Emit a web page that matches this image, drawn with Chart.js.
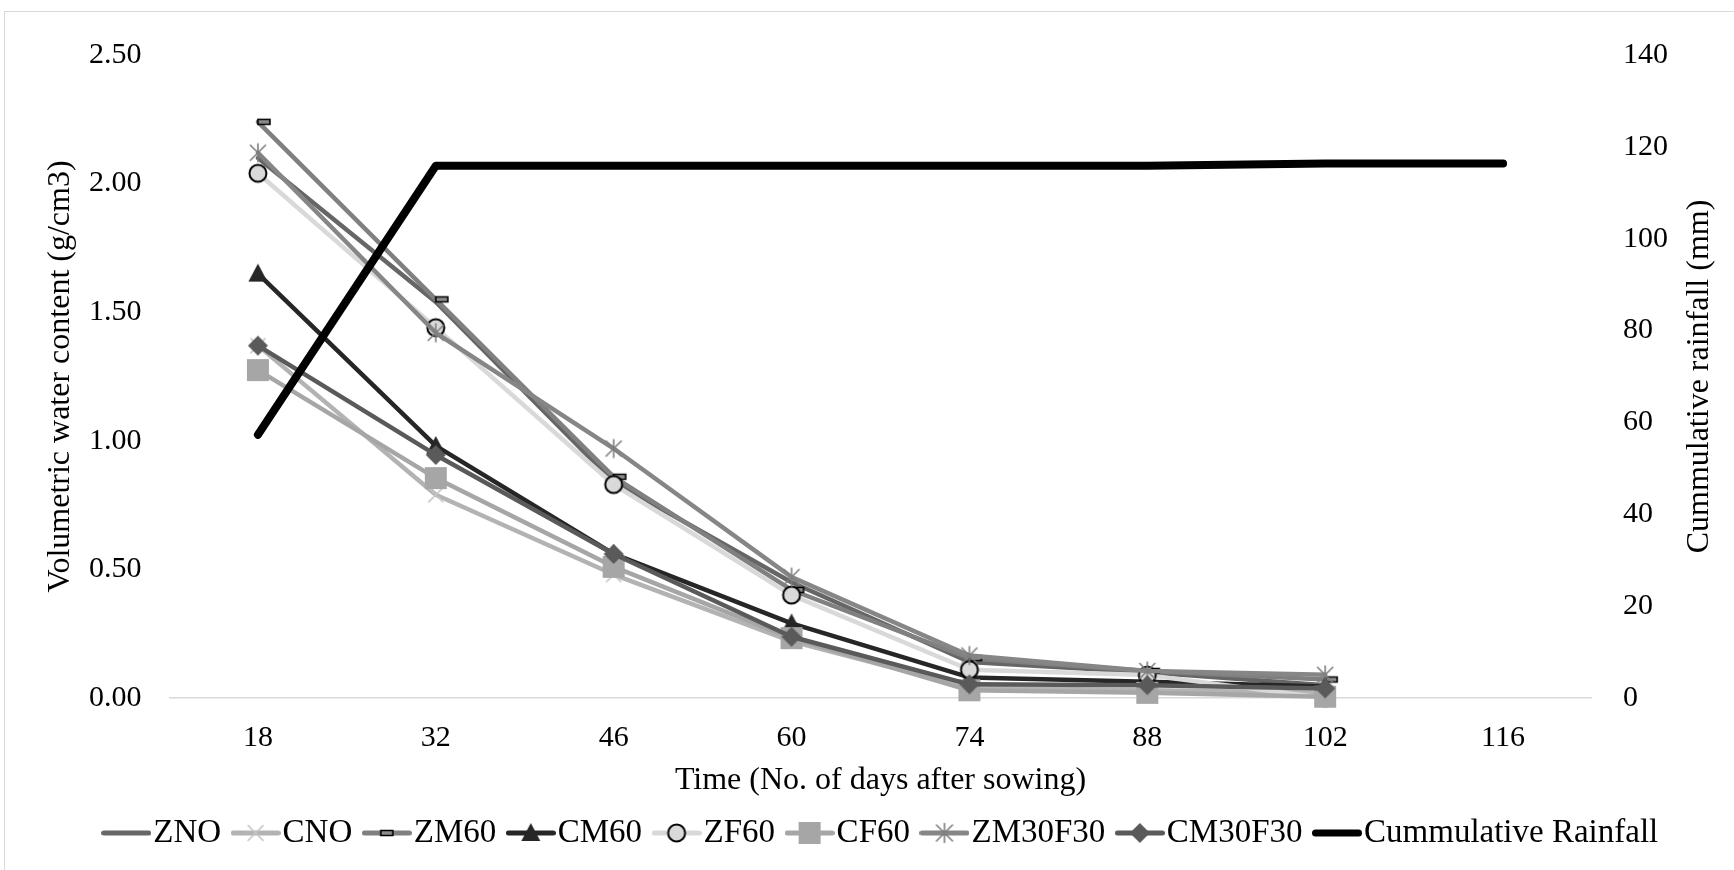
<!DOCTYPE html>
<html>
<head>
<meta charset="utf-8">
<title>Volumetric water content and cumulative rainfall</title>
<script src="https://cdn.jsdelivr.net/npm/chart.js@4.4.0/dist/chart.umd.min.js"></script>
<style>
  html, body { margin: 0; padding: 0; background: #fff; }
  #wrap { width: 1734px; height: 870px; position: relative; }
</style>
</head>
<body>
<div id="wrap"><canvas id="chart" width="1734" height="870"></canvas></div>
<script>
// Days after sowing (x categories)
const days = ['18', '32', '46', '60', '74', '88', '102', '116'];

// Volumetric water content per treatment (g/cm3)
const zno     = [2.10, 1.54, 0.84, 0.45, 0.14, 0.10, 0.05];
const cno     = [1.37, 0.79, 0.48, 0.22, 0.04, 0.03, 0.02];
const zm60    = [2.24, 1.55, 0.86, 0.42, 0.155, 0.105, 0.072];
const cm60    = [1.65, 0.98, 0.56, 0.29, 0.08, 0.063, 0.045];
const zf60    = [2.04, 1.44, 0.83, 0.40, 0.11, 0.089, 0.00];
const cf60    = [1.275, 0.855, 0.51, 0.233, 0.03, 0.02, 0.005];
const zm30f30 = [2.12, 1.42, 0.97, 0.47, 0.165, 0.105, 0.09];
const cm30f30 = [1.37, 0.945, 0.56, 0.238, 0.053, 0.05, 0.037];

// Cumulative rainfall (mm), right axis
const rainfall = [57.3, 115.9, 115.9, 115.9, 115.9, 115.9, 116.4, 116.4];

const seriesNames = ['ZNO', 'CNO', 'ZM60', 'CM60', 'ZF60', 'CF60', 'ZM30F30', 'CM30F30', 'Cummulative Rainfall'];
const seriesData  = [zno, cno, zm60, cm60, zf60, cf60, zm30f30, cm30f30, rainfall];

// look of each series
const lineColors   = ['#666666', '#b3b3b3', '#808080', '#262626', '#d9d9d9', '#a6a6a6', '#868686', '#5a5a5a', '#000000'];
const markerKinds  = ['none', 'cross', 'dash', 'triangle', 'circle', 'square', 'star', 'diamond', 'none'];
const markerColors = ['#666666', '#c4c4c4', '#8c8c8c', '#262626', '#d9d9d9', '#a6a6a6', '#7f7f7f', '#5a5a5a', '#000000'];

Chart.defaults.font.family = '"Liberation Serif", "Times New Roman", serif';
Chart.defaults.color = '#000';

function drawMarker(g, kind, color, x, y, inLegend) {
    g.save();
    g.fillStyle = color;
    g.strokeStyle = color;
    g.lineWidth = 1.6;
    g.beginPath();
    if (kind === 'cross') {
        g.moveTo(x - 7.5, y - 7.5); g.lineTo(x + 7.5, y + 7.5);
        g.moveTo(x + 7.5, y - 7.5); g.lineTo(x - 7.5, y + 7.5);
        g.stroke();
    } else if (kind === 'star') {
        g.moveTo(x - 8, y - 8); g.lineTo(x + 8, y + 8);
        g.moveTo(x + 8, y - 8); g.lineTo(x - 8, y + 8);
        g.moveTo(x, y - 9.5); g.lineTo(x, y + 9.5);
        g.stroke();
    } else if (kind === 'dash') {
        // Excel's dash sits to the right of the point
        const left = inLegend ? x - 6 : x;
        g.rect(left, y - 2.5, 12, 5);
        g.fill();
        g.strokeStyle = '#000';
        g.stroke();
    } else if (kind === 'triangle') {
        g.moveTo(x, y - 10); g.lineTo(x + 9.5, y + 8); g.lineTo(x - 9.5, y + 8);
        g.closePath();
        g.fill();
    } else if (kind === 'circle') {
        g.arc(x, y, 8.5, 0, Math.PI * 2);
        g.fill();
        g.strokeStyle = '#000';
        g.lineWidth = 2;
        g.stroke();
    } else if (kind === 'square') {
        g.rect(x - 11, y - 11, 22, 22);
        g.fill();
    } else if (kind === 'diamond') {
        g.moveTo(x, y - 10); g.lineTo(x + 10, y); g.lineTo(x, y + 10); g.lineTo(x - 10, y);
        g.closePath();
        g.fill();
    }
    g.restore();
}

function markerCanvas(kind, color) {
    const c = document.createElement('canvas');
    c.width = 40; c.height = 28;
    drawMarker(c.getContext('2d'), kind, color, 20, 14, false);
    return c;
}

// legend sample: short line with the marker in its middle
function legendIcon(kind, color, lineColor, lineWidth, w) {
    const c = document.createElement('canvas');
    c.width = w; c.height = 28;
    const g = c.getContext('2d');
    g.strokeStyle = lineColor;
    g.lineWidth = lineWidth;
    g.lineCap = 'round';
    g.beginPath();
    g.moveTo(lineWidth / 2, 14);
    g.lineTo(w - lineWidth / 2, 14);
    g.stroke();
    drawMarker(g, kind, color, w / 2, 14, true);
    return c;
}

const legendFont = 33;
const legendBox = 21;
const iconWidth = legendBox + legendFont - 4;

const lineWidths = seriesNames.map((n, i) => i === 8 ? 8 : 4.5);
const legendIcons = seriesNames.map((n, i) =>
    legendIcon(markerKinds[i], markerColors[i], lineColors[i], i === 8 ? 7 : 5, iconWidth));

const datasets = seriesNames.map((name, i) => ({
    label: name,
    data: seriesData[i],
    yAxisID: i === 8 ? 'y2' : 'y',
    borderColor: lineColors[i],
    backgroundColor: lineColors[i],
    borderWidth: lineWidths[i],
    borderCapStyle: 'round',
    borderJoinStyle: 'round',
    tension: 0,
    clip: false,
    pointStyle: markerKinds[i] === 'none' ? 'circle' : markerCanvas(markerKinds[i], markerColors[i]),
    pointRadius: markerKinds[i] === 'none' ? 0 : 10,
    // later series are painted over earlier ones
    order: seriesNames.length - 1 - i
}));

// white background with the thin chart-area frame
const frame = {
    id: 'frame',
    beforeDraw(chart) {
        const { ctx, width, height } = chart;
        ctx.save();
        ctx.fillStyle = '#fff';
        ctx.fillRect(0, 0, width, height);
        ctx.strokeStyle = '#d9d9d9';
        ctx.lineWidth = 1;
        ctx.strokeRect(4.5, 11.5, width + 10, height + 10);
        ctx.restore();
    }
};

// right axis title reads bottom-to-top like the left one
const rightTitle = {
    id: 'rightTitle',
    afterDraw(chart) {
        const { ctx, chartArea } = chart;
        ctx.save();
        ctx.translate(chart.scales.y2.right - 34, (chartArea.top + chartArea.bottom) / 2);
        ctx.rotate(-Math.PI / 2);
        ctx.font = '32px "Liberation Serif", "Times New Roman", serif';
        ctx.fillStyle = '#000';
        ctx.textAlign = 'center';
        ctx.textBaseline = 'middle';
        ctx.fillText('Cummulative rainfall (mm)', 0, 0);
        ctx.restore();
    }
};

new Chart(document.getElementById('chart'), {
    type: 'line',
    data: { labels: days, datasets: datasets },
    options: {
        responsive: false,
        animation: false,
        events: [],
        layout: { padding: { top: 55, right: 0, bottom: 10.5, left: 40 } },
        scales: {
            x: {
                offset: true,
                grid: { display: false },
                border: { display: false },
                ticks: { padding: 14, font: { size: 30 } },
                title: {
                    display: true,
                    text: 'Time (No. of days after sowing)',
                    font: { size: 32 },
                    padding: { top: 0, bottom: -7.7 }
                },
                afterFit: s => { s.height = 94.5; }
            },
            y: {
                position: 'left',
                min: 0,
                max: 2.5,
                ticks: { stepSize: 0.5, padding: 27.5, font: { size: 30 }, callback: v => v.toFixed(2) },
                grid: {
                    drawTicks: false,
                    color: c => c.tick && c.tick.value === 0 ? '#d9d9d9' : 'rgba(0,0,0,0)',
                    lineWidth: 1.5
                },
                border: { display: false },
                title: {
                    display: true,
                    text: 'Volumetric water content (g/cm3)',
                    font: { size: 32 },
                    padding: { top: 1.8, bottom: 0 }
                },
                afterFit: s => { s.width = 129; }
            },
            y2: {
                position: 'right',
                min: 0,
                max: 140,
                ticks: { stepSize: 20, padding: 31, font: { size: 30 } },
                grid: { display: false, drawTicks: false },
                border: { display: false },
                afterFit: s => { s.width = 142; }
            }
        },
        plugins: {
            tooltip: { enabled: false },
            legend: {
                position: 'bottom',
                labels: {
                    usePointStyle: true,
                    pointStyleWidth: legendBox,
                    padding: 24,
                    font: { size: legendFont },
                    color: '#000',
                    generateLabels: chart => chart.data.datasets.map((ds, i) => ({
                        text: ds.label,
                        pointStyle: legendIcons[i],
                        fillStyle: lineColors[i],
                        strokeStyle: lineColors[i],
                        lineWidth: 0,
                        fontColor: '#000',
                        hidden: false,
                        datasetIndex: i
                    }))
                }
            }
        }
    },
    plugins: [frame, rightTitle]
});
</script>
</body>
</html>
